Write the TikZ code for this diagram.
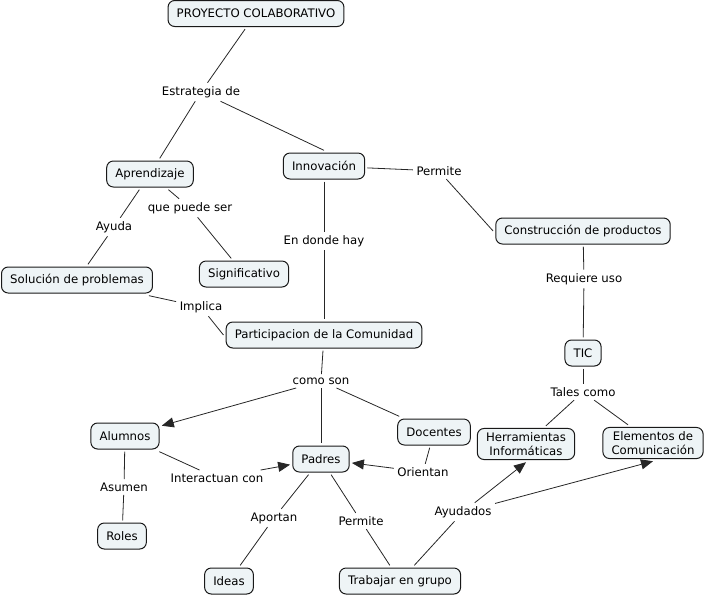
\documentclass[tikz,border=0pt]{standalone}
\usepackage{fontspec}
\setmainfont{DejaVu Sans}
\usetikzlibrary{arrows.meta}
\definecolor{cfill}{RGB}{238,244,246}
\begin{document}
\begin{tikzpicture}[x=0.75pt,y=-0.75pt,
 concept/.style={draw=black!90, fill=cfill, rounded corners=5pt, line width=0.75pt, inner xsep=6.5pt, inner ysep=3pt, minimum height=19.5pt, font=\fontsize{8.8}{10.5}\selectfont, align=center, outer sep=2pt},
 phrase/.style={inner sep=2.5pt, font=\fontsize{8.8}{10.5}\selectfont},
 link/.style={draw=black!85, line width=0.6pt},
 arr/.style={link, -{Triangle[length=9pt,width=7.5pt]}}]
\useasboundingbox (0,0) rectangle (706,597);
% concepts
\node[concept] (proy) at (256,13.5) {PROYECTO COLABORATIVO};
\node[concept] (apr) at (150,174) {Aprendizaje};
\node[concept] (inn) at (324,166) {Innovación};
\node[concept] (cons) at (583,231) {Construcción de productos};
\node[concept] (tic) at (583,353) {TIC};
\node[concept] (herr) at (526,444) {Herramientas\\Informáticas};
\node[concept] (elem) at (653,443) {Elementos de\\Comunicación};
\node[concept] (sol) at (77,280) {Solución de problemas};
\node[concept] (sig) at (244,274) {Significativo};
\node[concept] (part) at (324,335) {Participacion de la Comunidad};
\node[concept] (alu) at (125,436) {Alumnos};
\node[concept] (doc) at (434,432) {Docentes};
\node[concept] (pad) at (321,459) {Padres};
\node[concept] (rol) at (122,536) {Roles};
\node[concept] (ide) at (229,581) {Ideas};
\node[concept] (trab) at (400,581) {Trabajar en grupo};
% linking phrases
\node[phrase] (est) at (201,92) {Estrategia de};
\node[phrase] (perm1) at (439,171) {Permite};
\node[phrase] (req) at (584,279) {Requiere uso};
\node[phrase] (tal) at (583,392) {Tales como};
\node[phrase] (qps) at (190,208) {que puede ser};
\node[phrase] (ayu) at (114,227) {Ayuda};
\node[phrase] (edh) at (324,241) {En donde hay};
\node[phrase] (imp) at (201,307) {Implica};
\node[phrase] (cs) at (321,381) {como son};
\node[phrase] (int) at (217,478) {Interactuan con};
\node[phrase] (ori) at (423,472) {Orientan};
\node[phrase] (asu) at (124,487) {Asumen};
\node[phrase] (apo) at (274,518) {Aportan};
\node[phrase] (perm2) at (361,521) {Permite};
\node[phrase] (ayd) at (463,512) {Ayudados};
% connectors
\draw[link] (proy) -- (est);
\draw[link] (est) -- (apr);
\draw[link] (est) -- (inn.north);
\draw[link] (inn) -- (perm1);
\draw[link] (perm1) -- (cons.west);
\draw[link] (cons) -- (req);
\draw[link] (req) -- (tic);
\draw[link] (tic) -- (tal);
\draw[link] (tal) -- (herr);
\draw[link] (tal) -- (elem);
\draw[link] (apr) -- (qps);
\draw[link] (qps) -- (sig);
\draw[link] (apr) -- (ayu);
\draw[link] (ayu) -- (sol);
\draw[link] (inn) -- (edh);
\draw[link] (edh) -- (part);
\draw[link] (sol) -- (imp);
\draw[link] (imp) -- (part.west);
\draw[link] (part) -- (cs);
\draw[arr] (cs) -- (alu);
\draw[link] (cs) -- (pad);
\draw[link] (cs) -- (doc);
\draw[link] (alu) -- (int);
\draw[arr] (int) -- (pad);
\draw[link] (doc) -- (ori);
\draw[arr] (ori) -- (pad);
\draw[link] (alu) -- (asu);
\draw[link] (asu) -- (rol);
\draw[link] (pad) -- (apo);
\draw[link] (apo) -- (ide);
\draw[link] (pad) -- (perm2);
\draw[link] (perm2) -- (trab);
\draw[link] (trab) -- (ayd);
\draw[arr] (ayd) -- (herr.south);
\draw[arr] (ayd) -- (elem.south);
\end{tikzpicture}
\end{document}
